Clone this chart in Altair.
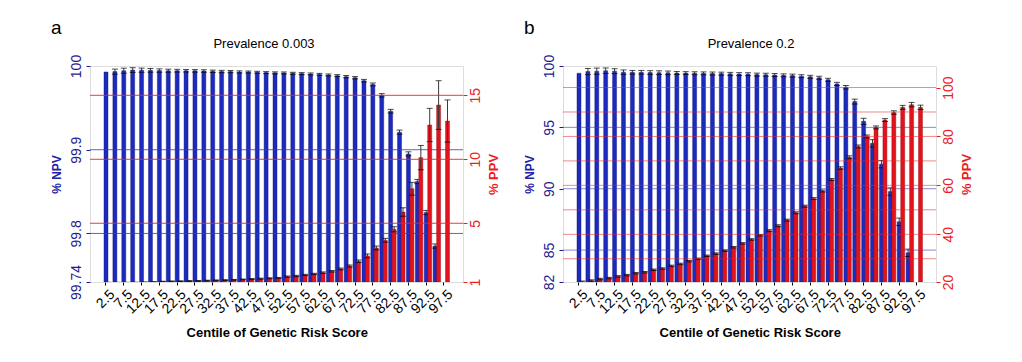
import altair as alt
import pandas as pd

# ---------------- data ----------------
centiles = ["2.5", "5", "7.5", "10", "12.5", "15", "17.5", "20", "22.5", "25",
            "27.5", "30", "32.5", "35", "37.5", "40", "42.5", "45", "47.5", "50",
            "52.5", "55", "57.5", "60", "62.5", "65", "67.5", "70", "72.5", "75",
            "77.5", "80", "82.5", "85", "87.5", "90", "92.5", "95", "97.5"]
label_centiles = ["2.5", "7.5", "12.5", "17.5", "22.5", "27.5", "32.5", "37.5", "42.5", "47.5",
                  "52.5", "57.5", "62.5", "67.5", "72.5", "77.5", "82.5", "87.5", "92.5", "97.5"]

# Panel a: prevalence 0.003
npv_a = [99.9929, 99.9933, 99.9944, 99.9952, 99.9950, 99.9948, 99.9946, 99.9944, 99.9944, 99.9943,
         99.9942, 99.9940, 99.9937, 99.9934, 99.9933, 99.9929, 99.9928, 99.9925, 99.9921, 99.9918,
         99.9917, 99.9913, 99.9909, 99.9905, 99.9900, 99.9893, 99.9885, 99.9873, 99.9860, 99.9825,
         99.9780, 99.9650, 99.9460, 99.9210, 99.8950, 99.8620, 99.8250, 99.7850, None]
npv_a_err = [None, 0.0030, 0.0030, 0.0028, 0.0025, 0.0022, 0.0020, 0.0018, 0.0016, 0.0015,
             0.0015, 0.0015, 0.0014, 0.0014, 0.0013, 0.0013, 0.0012, 0.0012, 0.0012, 0.0012,
             0.0012, 0.0012, 0.0012, 0.0012, 0.0012, 0.0012, 0.0012, 0.0013, 0.0014, 0.0015,
             0.0017, 0.0020, 0.0022, 0.0025, 0.0025, 0.0025, 0.0025, 0.0025, None]
ppv_a = [0.25, 0.29, 0.32, 0.35, 0.38, 0.41, 0.44, 0.46, 0.47, 0.49,
         0.50, 0.52, 0.54, 0.56, 0.58, 0.61, 0.64, 0.67, 0.70, 0.73,
         0.83, 0.88, 0.96, 1.04, 1.14, 1.25, 1.43, 1.66, 2.03, 2.45,
         3.07, 3.67, 4.53, 5.88, 7.70, 10.13, 12.68, 14.24, 12.99]
ppv_a_err = [0.03, 0.03, 0.03, 0.03, 0.03, 0.03, 0.03, 0.03, 0.03, 0.03,
             0.03, 0.03, 0.03, 0.03, 0.03, 0.03, 0.04, 0.04, 0.04, 0.04,
             0.05, 0.05, 0.05, 0.05, 0.06, 0.06, 0.07, 0.08, 0.10, 0.15,
             0.15, 0.15, 0.20, 0.33, 0.50, 0.95, 1.30, 1.90, 1.65]

# Panel b: prevalence 0.2
npv_b = [99.41, 99.55, 99.58, 99.62, 99.58, 99.50, 99.49, 99.49, 99.47, 99.46,
         99.44, 99.43, 99.42, 99.41, 99.40, 99.39, 99.38, 99.36, 99.34, 99.33,
         99.30, 99.29, 99.27, 99.24, 99.22, 99.17, 99.12, 99.04, 98.88, 98.54,
         98.27, 97.10, 95.49, 93.70, 92.00, 89.77, 87.31, 84.78, None]
npv_b_err = [None, 0.25, 0.25, 0.22, 0.20, 0.18, 0.15, 0.15, 0.15, 0.15,
             0.15, 0.12, 0.12, 0.12, 0.12, 0.12, 0.12, 0.12, 0.12, 0.12,
             0.12, 0.12, 0.12, 0.12, 0.12, 0.12, 0.12, 0.12, 0.12, 0.13,
             0.14, 0.20, 0.25, 0.30, 0.30, 0.30, 0.30, 0.30, None]
ppv_b = [20.6, 21.1, 21.7, 22.1, 22.8, 23.3, 24.1, 24.5, 25.5, 26.0,
         27.1, 27.9, 29.0, 30.0, 31.2, 32.1, 33.3, 34.7, 36.3, 37.9,
         39.6, 41.5, 43.5, 45.8, 48.8, 51.5, 54.6, 57.7, 62.4, 67.1,
         71.5, 75.9, 80.0, 83.7, 86.7, 89.8, 91.9, 93.0, 91.9]
ppv_b_err = [0.3, 0.3, 0.3, 0.3, 0.3, 0.3, 0.3, 0.3, 0.3, 0.3,
             0.3, 0.3, 0.3, 0.3, 0.3, 0.3, 0.3, 0.3, 0.3, 0.3,
             0.3, 0.4, 0.4, 0.4, 0.4, 0.4, 0.4, 0.4, 0.4, 0.5,
             0.6, 0.6, 0.6, 0.6, 0.6, 0.7, 0.8, 0.9, 0.9]

# axis ranges / gridlines
npv_a_domain = [99.742, 100.0]
npv_a_ticks = [99.742, 99.8, 99.9, 100.0]
npv_a_grid = [99.8, 99.9]
ppv_a_domain = [0.41, 17.29]
ppv_a_ticks = [0.41, 5, 10, 15]
ppv_a_grid = [5, 10, 15]

npv_b_domain = [82.4, 100.0]
npv_b_ticks = [82.4, 85, 90, 95, 100]
npv_b_grid = [85, 90, 95]
ppv_b_domain = [20.5, 108.8]
ppv_b_ticks = [20.5, 40, 60, 80, 100]
ppv_b_grid = [30, 40, 50, 60, 70, 80, 90, 100]

FONT = "Liberation Sans"
BLUE = "#1b2bbf"
BLUE_EDGE = "#10106e"
RED = "#e3121c"
RED_EDGE = "#8e0a10"
NAVY = "#1c1c90"
AXRED = "#ec1c24"


def build_df(npv, npv_err, ppv, ppv_err):
    rows = []
    for c, n, ne, p, pe in zip(centiles, npv, npv_err, ppv, ppv_err):
        rows.append({
            "cat": c,
            "npv": n,
            "npv_lo": None if (n is None or ne is None) else n - ne,
            "npv_hi": None if (n is None or ne is None) else n + ne,
            "ppv": p,
            "ppv_lo": None if (p is None or pe is None) else p - pe,
            "ppv_hi": None if (p is None or pe is None) else p + pe,
        })
    return pd.DataFrame(rows)


def make_panel(df, title, title_x, letter, npv_dom, npv_ticks, npv_expr, npv_grid,
               ppv_dom, ppv_ticks, ppv_expr, ppv_grid, red_grid_op, blue_grid_op):
    base = alt.Chart(df)
    x_axis = alt.Axis(values=label_centiles, labelAngle=315, labelAlign="right",
                      labelBaseline="top", labelFontSize=14, labelColor="black",
                      labelFont=FONT, tickSize=3, tickColor="black", domain=False,
                      title="Centile of Genetic Risk Score", titleFont=FONT,
                      titleFontSize=13, titleFontWeight="bold", titleColor="black",
                      titlePadding=10, labelPadding=2, bandPosition=0.3)
    x = alt.X("cat:N", sort=centiles,
              scale=alt.Scale(paddingInner=0, paddingOuter=0, range=[13.3, 360.2]),
              axis=x_axis)

    npv_scale = alt.Scale(domain=npv_dom, zero=False, nice=False)
    npv_axis = alt.Axis(orient="left", values=npv_ticks, labelExpr=npv_expr,
                        labelAngle=270, labelAlign="center", labelBaseline="bottom",
                        labelFontSize=14, labelFont=FONT, labelColor=NAVY,
                        tickColor=NAVY, tickSize=4, domain=False, grid=False,
                        labelPadding=3, title="% NPV", titleFont=FONT,
                        titleFontSize=12, titleFontWeight="bold", titleColor="#2323a6",
                        titleAngle=270, titleBaseline="bottom", titlePadding=6)
    ppv_scale = alt.Scale(domain=ppv_dom, zero=False, nice=False)
    ppv_axis = alt.Axis(orient="right", values=ppv_ticks, labelExpr=ppv_expr,
                        labelAngle=270, labelAlign="center", labelBaseline="top",
                        labelFontSize=14, labelFont=FONT, labelColor=AXRED,
                        tickColor=AXRED, tickSize=4, domain=False, grid=False,
                        labelPadding=1, title="% PPV", titleFont=FONT,
                        titleFontSize=13, titleFontWeight="bold", titleColor=AXRED,
                        titleAngle=270, titleBaseline="top", titlePadding=5)

    def ynpv(field):
        return alt.Y(field, type="quantitative", scale=npv_scale, axis=npv_axis)

    def yppv(field):
        return alt.Y(field, type="quantitative", scale=ppv_scale, axis=ppv_axis)

    boff, roff = -1.75, 1.75

    blue_bars = base.mark_bar(color=BLUE, stroke=BLUE_EDGE, strokeWidth=0.4,
                              width=4, xOffset=boff, clip=True).encode(
        x=x, y=ynpv("npv"), y2=alt.datum(npv_dom[0]))
    blue_err = base.transform_filter("isValid(datum.npv_lo)").mark_rule(
        color="#3a3a3a", strokeWidth=1, xOffset=boff, clip=True).encode(
        x=x, y=ynpv("npv_lo"), y2="npv_hi:Q")
    blue_cap_lo = base.transform_filter("isValid(datum.npv_lo)").mark_tick(
        color="black", size=6, thickness=1, orient="horizontal", xOffset=boff,
        clip=True).encode(x=x, y=ynpv("npv_lo"))
    blue_cap_hi = base.transform_filter("isValid(datum.npv_hi)").mark_tick(
        color="black", size=6, thickness=1, orient="horizontal", xOffset=boff,
        clip=True).encode(x=x, y=ynpv("npv_hi"))
    blue_grid = alt.Chart(pd.DataFrame({"npv": npv_grid})).mark_rule(
        color="#3a3ab8", strokeWidth=1, opacity=blue_grid_op).encode(y=ynpv("npv"))

    red_bars = base.mark_bar(color=RED, stroke=RED_EDGE, strokeWidth=0.4,
                             width=4, xOffset=roff, clip=True).encode(
        x=x, y=yppv("ppv"), y2=alt.datum(ppv_dom[0]))
    red_err = base.transform_filter("isValid(datum.ppv_lo)").mark_rule(
        color="#3a3a3a", strokeWidth=1, xOffset=roff, clip=True).encode(
        x=x, y=yppv("ppv_lo"), y2="ppv_hi:Q")
    red_cap_lo = base.transform_filter("isValid(datum.ppv_lo)").mark_tick(
        color="black", size=6, thickness=1, orient="horizontal", xOffset=roff,
        clip=True).encode(x=x, y=yppv("ppv_lo"))
    red_cap_hi = base.transform_filter("isValid(datum.ppv_hi)").mark_tick(
        color="black", size=6, thickness=1, orient="horizontal", xOffset=roff,
        clip=True).encode(x=x, y=yppv("ppv_hi"))
    red_grid = alt.Chart(pd.DataFrame({"ppv": ppv_grid})).mark_rule(
        color="#e8262e", strokeWidth=1, opacity=red_grid_op).encode(y=yppv("ppv"))

    blue_layer = alt.layer(blue_bars, blue_err, blue_cap_lo, blue_cap_hi, blue_grid)
    red_layer = alt.layer(red_bars, red_err, red_cap_lo, red_cap_hi, red_grid)

    letter_mark = alt.Chart(pd.DataFrame({"t": [letter]})).mark_text(
        font=FONT, fontSize=19, color="black", align="left", baseline="alphabetic").encode(
        text="t:N", x=alt.value(-39), y=alt.value(-32))
    title_mark = alt.Chart(pd.DataFrame({"t": [title]})).mark_text(
        font=FONT, fontSize=13, color="black", align="center", baseline="alphabetic").encode(
        text="t:N", x=alt.value(title_x), y=alt.value(-18))

    return alt.layer(blue_layer, red_layer, letter_mark, title_mark).resolve_scale(
        y="independent").properties(width=373, height=216)


df_a = build_df(npv_a, npv_a_err, ppv_a, ppv_a_err)
df_b = build_df(npv_b, npv_b_err, ppv_b, ppv_b_err)

panel_a = make_panel(df_a, "Prevalence 0.003", 174, "a",
                     npv_a_domain, npv_a_ticks,
                     "datum.value < 99.75 ? '99.74' : format(datum.value, '.4~f')",
                     npv_a_grid,
                     ppv_a_domain, ppv_a_ticks,
                     "datum.value < 1 ? '1' : format(datum.value, '~f')",
                     ppv_a_grid, 0.9, 0.8)
panel_b = make_panel(df_b, "Prevalence 0.2", 188, "b",
                     npv_b_domain, npv_b_ticks,
                     "datum.value < 83 ? '82' : format(datum.value, '~f')",
                     npv_b_grid,
                     ppv_b_domain, ppv_b_ticks,
                     "datum.value < 21 ? '20' : format(datum.value, '~f')",
                     ppv_b_grid, 0.55, 0.6)

chart = alt.hconcat(panel_a, panel_b, spacing=21).properties(
    padding={"left": 41, "top": 10, "right": 5, "bottom": 5}
).configure_view(stroke="#9a9a9a", strokeWidth=1).configure(background="white")

chart.save("out.html", embed_options={"renderer": "svg", "actions": False})
